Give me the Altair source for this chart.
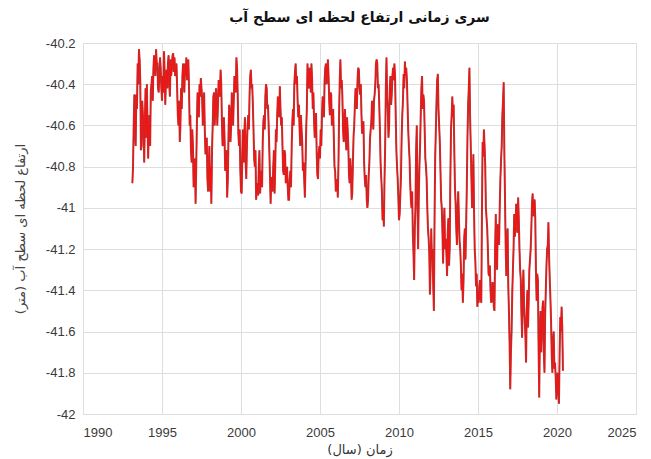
import altair as alt
import pandas as pd

# Water-level readings (m), two per month: mid-month (lvl_*) and month-end (mid_*).
# 1993 starts in February, 2020 ends in May.
lvl_1993 = [-40.88, -40.60, -40.62, -40.45, -40.30, -40.23, -40.38, -40.70, -40.55, -40.78, -40.42]
mid_1993 = [-40.80, -40.45, -40.70, -40.52, -40.40, -40.28, -40.72, -40.48, -40.62, -40.58, -40.66]
lvl_1994 = [-40.40, -40.76, -40.55, -40.43, -40.36, -40.32, -40.28, -40.23, -40.30, -40.44, -40.27, -40.42]
mid_1994 = [-40.60, -40.62, -40.70, -40.40, -40.48, -40.26, -40.36, -40.30, -40.42, -40.34, -40.32, -40.48]
lvl_1995 = [-40.36, -40.24, -40.50, -40.33, -40.30, -40.40, -40.28, -40.32, -40.25, -40.27, -40.35, -40.42]
mid_1995 = [-40.44, -40.34, -40.38, -40.42, -40.26, -40.46, -40.36, -40.26, -40.34, -40.36, -40.30, -40.55]
lvl_1996 = [-40.60, -40.68, -40.42, -40.36, -40.38, -40.30, -40.27, -40.34, -40.41, -40.55, -40.78, -40.70]
mid_1996 = [-40.48, -40.60, -40.52, -40.30, -40.44, -40.36, -40.38, -40.28, -40.60, -40.72, -40.62, -40.90]
lvl_1997 = [-40.82, -40.98, -40.59, -40.46, -40.40, -40.37, -40.47, -40.54, -40.62, -40.70, -40.86, -40.80]
mid_1997 = [-40.76, -40.80, -40.44, -40.56, -40.46, -40.42, -40.60, -40.44, -40.74, -40.66, -40.92, -40.70]
lvl_1998 = [-40.92, -40.98, -40.60, -40.44, -40.52, -40.48, -40.50, -40.42, -40.33, -40.58, -40.68, -40.66]
mid_1998 = [-40.80, -40.72, -40.46, -40.60, -40.42, -40.60, -40.38, -40.46, -40.40, -40.70, -40.56, -40.82]
lvl_1999 = [-40.80, -40.95, -40.65, -40.54, -40.60, -40.50, -40.48, -40.40, -40.27, -40.45, -40.70, -40.82]
mid_1999 = [-40.72, -40.86, -40.50, -40.68, -40.44, -40.60, -40.36, -40.44, -40.32, -40.64, -40.62, -40.92]
lvl_2000 = [-40.93, -40.62, -40.64, -40.78, -40.70, -40.55, -40.45, -40.33, -40.40, -40.62, -40.80, -40.96]
mid_2000 = [-40.74, -40.78, -40.56, -40.86, -40.60, -40.62, -40.36, -40.42, -40.50, -40.76, -40.72, -40.90]
lvl_2001 = [-40.88, -40.80, -40.93, -40.82, -40.68, -40.55, -40.46, -40.42, -40.50, -40.72, -40.98, -40.85]
mid_2001 = [-40.94, -40.72, -40.86, -40.90, -40.58, -40.62, -40.40, -40.52, -40.60, -40.84, -40.86, -40.92]
lvl_2002 = [-40.80, -40.93, -40.62, -40.55, -40.48, -40.41, -40.60, -40.70, -40.84, -40.74, -40.86, -40.90]
mid_2002 = [-40.72, -40.80, -40.68, -40.46, -40.56, -40.52, -40.56, -40.82, -40.72, -40.88, -40.80, -40.96]
lvl_2003 = [-40.96, -40.82, -40.70, -40.52, -40.40, -40.30, -40.36, -40.56, -40.62, -40.55, -40.68, -40.78]
mid_2003 = [-40.86, -40.90, -40.58, -40.60, -40.34, -40.40, -40.48, -40.50, -40.70, -40.62, -40.82, -40.86]
lvl_2004 = [-40.95, -40.62, -40.30, -40.42, -40.35, -40.30, -40.52, -40.58, -40.60, -40.74, -40.86, -40.70]
mid_2004 = [-40.80, -40.52, -40.40, -40.32, -40.44, -40.38, -40.44, -40.66, -40.54, -40.84, -40.74, -40.76]
lvl_2005 = [-40.62, -40.55, -40.48, -40.38, -40.30, -40.34, -40.36, -40.55, -40.45, -40.56, -40.66, -40.82]
mid_2005 = [-40.70, -40.46, -40.56, -40.32, -40.40, -40.28, -40.48, -40.44, -40.60, -40.52, -40.80, -40.92]
lvl_2006 = [-40.90, -40.95, -40.55, -40.28, -40.38, -40.62, -40.58, -40.66, -40.56, -40.70, -40.88, -40.82]
mid_2006 = [-40.86, -40.80, -40.38, -40.42, -40.46, -40.68, -40.52, -40.72, -40.62, -40.84, -40.76, -40.96]
lvl_2007 = [-40.93, -40.65, -40.50, -40.45, -40.38, -40.33, -40.45, -40.55, -40.62, -40.78, -40.90, -40.96]
mid_2007 = [-40.78, -40.60, -40.42, -40.52, -40.32, -40.42, -40.40, -40.64, -40.58, -40.86, -40.84, -41.00]
lvl_2008 = [-40.96, -40.78, -40.62, -40.48, -40.62, -40.45, -40.30, -40.30, -40.40, -40.62, -40.85, -41.06]
mid_2008 = [-40.84, -40.66, -40.58, -40.54, -40.48, -40.40, -40.28, -40.42, -40.50, -40.78, -40.92, -41.00]
lvl_2009 = [-41.09, -40.70, -40.27, -40.52, -40.60, -40.36, -40.45, -40.32, -40.30, -40.55, -40.80, -40.95]
mid_2009 = [-40.86, -40.42, -40.46, -40.66, -40.42, -40.50, -40.36, -40.38, -40.36, -40.72, -40.86, -41.06]
lvl_2010 = [-41.03, -40.85, -40.55, -40.35, -40.29, -40.32, -40.50, -40.70, -40.88, -41.00, -41.12, -41.35]
mid_2010 = [-40.94, -40.66, -40.48, -40.42, -40.36, -40.38, -40.62, -40.76, -40.96, -40.92, -41.22, -41.10]
lvl_2011 = [-41.00, -40.60, -41.20, -40.80, -40.55, -40.36, -40.45, -40.62, -40.80, -41.00, -41.15, -41.42]
mid_2011 = [-40.72, -40.95, -40.96, -40.70, -40.42, -40.52, -40.48, -40.76, -40.86, -41.10, -41.22, -41.30]
lvl_2012 = [-41.10, -41.20, -41.50, -40.75, -40.48, -40.35, -40.60, -40.82, -41.00, -41.27, -41.00, -41.15]
mid_2012 = [-41.25, -41.38, -41.05, -40.62, -40.38, -40.52, -40.68, -40.96, -41.12, -41.08, -41.20, -41.22]
lvl_2013 = [-41.33, -41.05, -41.20, -40.62, -40.46, -40.50, -40.90, -41.10, -41.00, -41.05, -41.20, -41.40]
mid_2013 = [-41.12, -41.28, -40.86, -40.55, -40.56, -40.72, -40.98, -41.18, -40.92, -41.16, -41.28, -41.32]
lvl_2014 = [-41.46, -41.15, -41.25, -40.90, -40.50, -40.32, -40.70, -41.00, -40.74, -41.20, -41.38, -41.48]
mid_2014 = [-41.36, -41.10, -41.08, -40.66, -40.42, -40.56, -40.86, -40.90, -41.02, -41.26, -41.32, -41.42]
lvl_2015 = [-41.46, -41.35, -41.46, -40.68, -40.62, -40.80, -41.05, -41.20, -41.33, -41.40, -41.45, -41.38]
mid_2015 = [-41.38, -41.44, -41.02, -40.75, -40.70, -41.00, -41.10, -41.32, -41.28, -41.46, -41.36, -41.48]
lvl_2016 = [-41.50, -41.03, -41.30, -41.15, -41.00, -40.77, -40.55, -40.39, -40.95, -41.33, -41.10, -41.50]
mid_2016 = [-41.20, -41.26, -41.08, -41.18, -40.86, -40.70, -40.48, -40.72, -41.18, -41.16, -41.38, -41.66]
lvl_2017 = [-41.88, -41.60, -41.30, -41.03, -41.10, -41.05, -40.95, -41.20, -41.35, -41.63, -41.30, -41.55]
mid_2017 = [-41.70, -41.42, -41.20, -41.14, -40.98, -41.12, -41.06, -41.30, -41.52, -41.40, -41.48, -41.62]
lvl_2018 = [-41.75, -41.40, -41.45, -41.25, -41.10, -40.93, -40.98, -41.05, -41.45, -41.35, -41.92, -41.50]
mid_2018 = [-41.50, -41.58, -41.30, -41.20, -40.98, -41.04, -40.96, -41.30, -41.32, -41.68, -41.62, -41.70]
lvl_2019 = [-41.60, -41.45, -41.80, -41.40, -41.20, -41.07, -41.35, -41.55, -41.80, -41.60, -41.75, -41.93]
mid_2019 = [-41.48, -41.70, -41.52, -41.28, -41.18, -41.24, -41.44, -41.72, -41.64, -41.78, -41.82, -41.86]
lvl_2020 = [-41.80, -41.95, -41.53, -41.48, -41.79]
mid_2020 = [-41.86, -41.70, -41.60, -41.58]

# (year, first month index, mid-month values, month-end values)
yearly = [
    (1993, 1, lvl_1993, mid_1993), (1994, 0, lvl_1994, mid_1994),
    (1995, 0, lvl_1995, mid_1995), (1996, 0, lvl_1996, mid_1996),
    (1997, 0, lvl_1997, mid_1997), (1998, 0, lvl_1998, mid_1998),
    (1999, 0, lvl_1999, mid_1999), (2000, 0, lvl_2000, mid_2000),
    (2001, 0, lvl_2001, mid_2001), (2002, 0, lvl_2002, mid_2002),
    (2003, 0, lvl_2003, mid_2003), (2004, 0, lvl_2004, mid_2004),
    (2005, 0, lvl_2005, mid_2005), (2006, 0, lvl_2006, mid_2006),
    (2007, 0, lvl_2007, mid_2007), (2008, 0, lvl_2008, mid_2008),
    (2009, 0, lvl_2009, mid_2009), (2010, 0, lvl_2010, mid_2010),
    (2011, 0, lvl_2011, mid_2011), (2012, 0, lvl_2012, mid_2012),
    (2013, 0, lvl_2013, mid_2013), (2014, 0, lvl_2014, mid_2014),
    (2015, 0, lvl_2015, mid_2015), (2016, 0, lvl_2016, mid_2016),
    (2017, 0, lvl_2017, mid_2017), (2018, 0, lvl_2018, mid_2018),
    (2019, 0, lvl_2019, mid_2019), (2020, 0, lvl_2020, mid_2020),
]

x_ticks = [1990, 1995, 2000, 2005, 2010, 2015, 2020, 2025]
y_ticks = [-42, -41.8, -41.6, -41.4, -41.2, -41, -40.8, -40.6, -40.4, -40.2]

rows = []
for year, first_month, centres, ends in yearly:
    for i, v in enumerate(centres):
        rows.append({"t": year + (first_month + i + 0.5) / 12.0, "h": v})
    for i, v in enumerate(ends):
        rows.append({"t": year + (first_month + i + 1.0) / 12.0, "h": v})
df = pd.DataFrame(rows).sort_values("t").reset_index(drop=True)

label_font = "Liberation Sans"
fa_font = "DejaVu Sans"

x_enc = alt.X(
    "t:Q",
    scale=alt.Scale(domain=[1990, 2025], nice=False, zero=False),
    axis=alt.Axis(
        values=x_ticks, format="d", title="زمان (سال)",
        titleFont=fa_font, titleFontSize=13, titleFontWeight="normal",
        titleColor="#333333", titlePadding=4,
        labelFont=label_font, labelFontSize=13, labelColor="#3a3a3a",
        labelPadding=12, ticks=False, domain=False,
        grid=True, gridColor="#dedede", gridWidth=1,
    ),
)
y_enc = alt.Y(
    "h:Q",
    scale=alt.Scale(domain=[-42, -40.2], nice=False, zero=False),
    axis=alt.Axis(
        values=y_ticks,
        labelExpr="replace(format(datum.value, '~g'), '\u2212', '-')",
        title="ارتفاع لحظه ای سطح آب (متر)",
        titleFont=fa_font, titleFontSize=13, titleFontWeight="normal",
        titleColor="#444444", titlePadding=18,
        labelFont=label_font, labelFontSize=13, labelColor="#3a3a3a",
        labelPadding=8, ticks=False, domain=False,
        grid=True, gridColor="#dedede", gridWidth=1,
    ),
)

base = alt.Chart(df).encode(x=x_enc, y=y_enc)
# dark outline under a bright red core
outline = base.mark_line(color="#8a0000", strokeWidth=2.0, opacity=0.75)
core = base.mark_line(color="#f01515", strokeWidth=1.1)

chart = alt.layer(outline, core).properties(
    width=553,
    height=371,
    autosize=alt.AutoSizeParams(type="none"),
    padding={"left": 83, "top": 43, "right": 15, "bottom": 45},
    title=alt.TitleParams(
        "سری زمانی ارتفاع لحظه ای سطح آب",
        font=fa_font, fontSize=14, fontWeight="bold", color="#111111",
        anchor="middle", offset=12,
    ),
).configure_view(stroke="#222222", strokeWidth=1.2).configure(background="white")

chart.save("out.html", embed_options={"renderer": "svg", "actions": False})
